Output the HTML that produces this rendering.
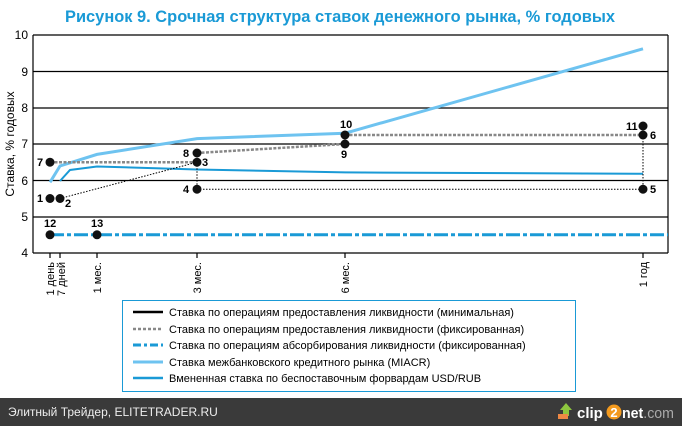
<!DOCTYPE html>
<html><head><meta charset="utf-8"><style>
html,body{margin:0;padding:0;background:#fff;}
body{width:682px;height:426px;overflow:hidden;position:relative;font-family:"Liberation Sans",Arial,sans-serif;}
</style></head><body>
<svg width="682" height="426" viewBox="0 0 682 426" xmlns="http://www.w3.org/2000/svg" style="position:absolute;left:0;top:0">
<text x="340" y="22" text-anchor="middle" font-family="Liberation Sans" font-weight="bold" font-size="16.5" fill="#1a9ad6" textLength="550" lengthAdjust="spacingAndGlyphs">Рисунок 9. Срочная структура ставок денежного рынка, % годовых</text>
<g stroke="#000" stroke-width="1.2">
<line x1="33" y1="35" x2="668" y2="35"/>
<line x1="33" y1="71.5" x2="668" y2="71.5"/>
<line x1="33" y1="108" x2="668" y2="108"/>
<line x1="33" y1="144" x2="668" y2="144"/>
<line x1="33" y1="180.5" x2="668" y2="180.5"/>
<line x1="33" y1="217" x2="668" y2="217"/>
<line x1="33" y1="253" x2="668" y2="253"/>
<line x1="33" y1="35" x2="33" y2="253"/>
<line x1="668" y1="35" x2="668" y2="253"/>
<line x1="50" y1="253" x2="50" y2="258"/><line x1="60" y1="253" x2="60" y2="258"/>
<line x1="97" y1="253" x2="97" y2="258"/><line x1="197" y1="253" x2="197" y2="258"/>
<line x1="345" y1="253" x2="345" y2="258"/><line x1="643" y1="253" x2="643" y2="258"/>
</g>
<g font-size="12" text-anchor="end" fill="#000">
<text x="28" y="39">10</text><text x="28" y="76">9</text><text x="28" y="112">8</text>
<text x="28" y="148">7</text><text x="28" y="185">6</text><text x="28" y="221">5</text><text x="28" y="257">4</text>
</g>
<text transform="translate(14,144) rotate(-90)" text-anchor="middle" font-size="12">Ставка, % годовых</text>
<g font-size="11" text-anchor="end">
<text transform="translate(54,262) rotate(-90)">1 день</text>
<text transform="translate(65,262) rotate(-90)">7 дней</text>
<text transform="translate(101,262) rotate(-90)">1 мес.</text>
<text transform="translate(201,262) rotate(-90)">3 мес.</text>
<text transform="translate(349,262) rotate(-90)">6 мес.</text>
<text transform="translate(647,262) rotate(-90)">1 год</text>
</g>
<polyline points="50,234.8 668,234.8" fill="none" stroke="#1a9ad6" stroke-width="3" stroke-dasharray="14,3,4,3"/>
<polyline points="50,182.3 60,166 97,154.4 197,138.6 345,133.2 643,48.8" fill="none" stroke="#6ec3f0" stroke-width="3"/>
<polyline points="60,181 70,170 97,166.5 197,169.5 345,172.4 643,173.8" fill="none" stroke="#1a9ad6" stroke-width="2"/>
<g fill="none" stroke="#888" stroke-width="2.5" stroke-dasharray="3,1.5">
<polyline points="50,162.2 197,162.2"/>
<polyline points="197,153 345,144 "/>
<polyline points="345,135 643,135"/>
</g>
<g fill="none" stroke="#000" stroke-width="1" stroke-dasharray="1.5,1.5">
<polyline points="60,198.5 197,162.2"/>
<polyline points="197,162.2 197,189.2 643,189.2"/>
<polyline points="643,135 643,189.2"/>
</g>
<g fill="#111">
<circle cx="50" cy="198.5" r="4.5"/><circle cx="60" cy="198.5" r="4.5"/>
<circle cx="197" cy="162.2" r="4.5"/><circle cx="197" cy="189.2" r="4.5"/>
<circle cx="643" cy="189.2" r="4.5"/><circle cx="643" cy="135" r="4.5"/>
<circle cx="50" cy="162.2" r="4.5"/><circle cx="197" cy="153" r="4.5"/>
<circle cx="345" cy="144" r="4.5"/><circle cx="345" cy="135" r="4.5"/>
<circle cx="643" cy="126" r="4.5"/><circle cx="50" cy="234.8" r="4.5"/><circle cx="97" cy="234.8" r="4.5"/>
</g>
<g font-size="11" font-weight="bold" fill="#000">
<text x="37" y="202">1</text><text x="65" y="207">2</text>
<text x="202" y="166">3</text><text x="183" y="193">4</text>
<text x="650" y="193">5</text><text x="650" y="139">6</text>
<text x="37" y="166">7</text><text x="183" y="157">8</text>
<text x="341" y="158">9</text><text x="340" y="128">10</text>
<text x="626" y="130">11</text><text x="44" y="227">12</text><text x="91" y="227">13</text>
</g>
<rect x="122.5" y="300.5" width="453" height="91" fill="#fff" stroke="#1a9ad6" stroke-width="1"/>
<g stroke-width="2.5" fill="none">
<line x1="133" y1="312" x2="163" y2="312" stroke="#000"/>
<line x1="133" y1="329" x2="163" y2="329" stroke="#888" stroke-dasharray="3,2"/>
<line x1="133" y1="345" x2="163" y2="345" stroke="#1a9ad6" stroke-width="3" stroke-dasharray="8,3,3,3"/>
<line x1="133" y1="362" x2="163" y2="362" stroke="#6ec3f0" stroke-width="3"/>
<line x1="133" y1="378" x2="163" y2="378" stroke="#1a9ad6"/>
</g>
<g font-size="11" fill="#000">
<text x="169" y="316">Ставка по операциям предоставления ликвидности (минимальная)</text>
<text x="169" y="333">Ставка по операциям предоставления ликвидности (фиксированная)</text>
<text x="169" y="349">Ставка по операциям абсорбирования ликвидности (фиксированная)</text>
<text x="169" y="366">Ставка межбанковского кредитного рынка (MIACR)</text>
<text x="169" y="382">Вмененная ставка по беспоставочным форвардам USD/RUB</text>
</g>
<rect x="0" y="398" width="682" height="28" fill="#3a3a3a"/>
<text x="8" y="416" font-size="12" fill="#eee">Элитный Трейдер, ELITETRADER.RU</text>
<polygon points="560,410 566,403 572,410 569,410 569,416 563,416 563,410" fill="#8dc63f"/>
<rect x="558" y="414" width="10" height="5" fill="#e84"/>
<text x="577" y="418" font-size="15" font-weight="bold" fill="#fff">clip</text>
<circle cx="614" cy="412" r="7.5" fill="#f39a1e"/>
<text x="614" y="417" font-size="13" font-weight="bold" fill="#fff" text-anchor="middle">2</text>
<text x="622" y="418" font-size="15" font-weight="bold" fill="#fff" textLength="52" lengthAdjust="spacingAndGlyphs">net<tspan fill="#aaa" font-weight="normal">.com</tspan></text>
</svg>
</body></html>
